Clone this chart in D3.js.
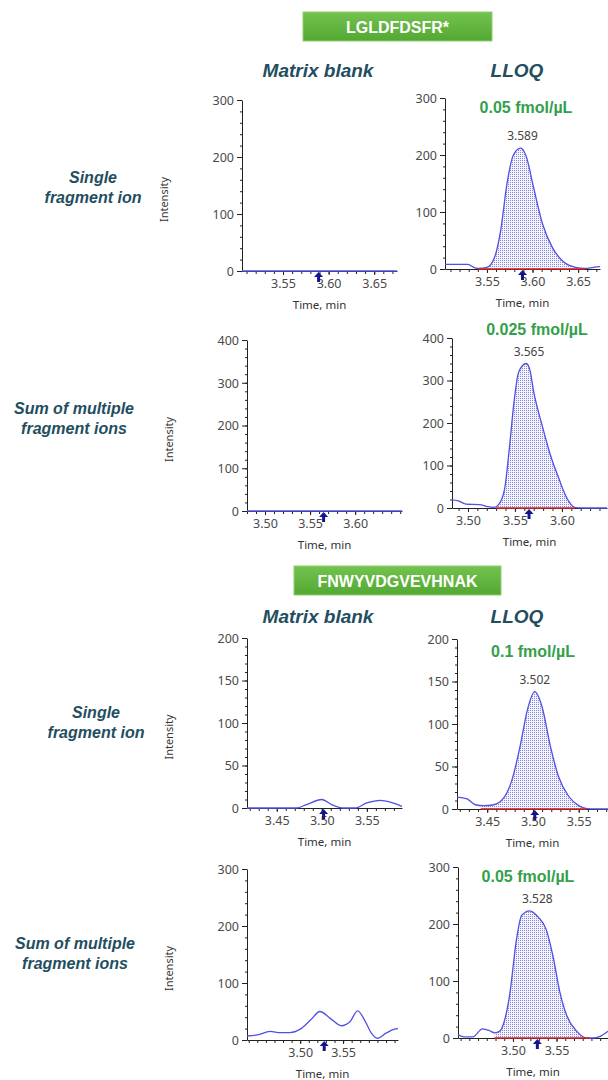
<!DOCTYPE html>
<html>
<head>
<meta charset="utf-8">
<script src="https://cdn.jsdelivr.net/npm/d3@7"></script>
<style>
  body {margin: 0; background: #fff;}
  svg {display: block;}
  .tick text {font-family: 'Noto Sans', sans-serif; font-size: 12.5px; fill: #4a4a4a;}
  .axis path, .axis line {stroke: #222;}
</style>
</head>
<body>
<script>
// peptides, column and row titles
const peptides = ['LGLDFDSFR*', 'FNWYVDGVEVHNAK']
const columnTitles = ['Matrix blank', 'LLOQ']
const rowLabels = [['Single', 'fragment ion'], ['Sum of multiple', 'fragment ions']]
const concentrations = ['0.05 fmol/µL', '0.025 fmol/µL', '0.1 fmol/µL', '0.05 fmol/µL']
const apexTimes = [3.589, 3.565, 3.502, 3.528]
const yMaxes = [300, 400, 200, 300]
const yTickSteps = [100, 100, 50, 100]
const xTickLabels = [[3.55, 3.60, 3.65], [3.50, 3.55, 3.60], [3.45, 3.50, 3.55], [3.50, 3.55]]
const xDomainsBlank = [[3.505, 3.675], [3.48, 3.652], [3.417, 3.589], [3.438, 3.614]]
const xDomainsLloq = [[3.504, 3.674], [3.483, 3.648], [3.417, 3.582], [3.437, 3.609]]
const integration = [[3.54, 3.658], [3.530, 3.614], [3.443, 3.559], [3.479, 3.588]]

// chromatograms: blank traces
const blank1Time = [3.505, 3.55, 3.60, 3.675]
const blank1Int = [0, 0, 0, 0]
const blank2Time = [3.48, 3.55, 3.60, 3.652]
const blank2Int = [0, 0, 0, 0]
const blank3Time = [3.417, 3.45, 3.472, 3.483, 3.50, 3.511, 3.524, 3.537, 3.55, 3.565, 3.576, 3.589]
const blank3Int = [0, 0, 0, 4, 10, 4, 0, 0, 6, 9, 7, 2]
const blank4Time = [3.438, 3.45, 3.465, 3.477, 3.488, 3.50, 3.512, 3.523, 3.535, 3.548, 3.558, 3.567, 3.575, 3.583, 3.59, 3.60, 3.61, 3.614]
const blank4Int = [7, 9, 15, 13, 13, 19, 35, 50, 38, 25, 32, 51, 35, 12, 3, 12, 19, 20]

// chromatograms: LLOQ traces
const lloq1Time = [3.504, 3.529, 3.537, 3.541, 3.55, 3.558, 3.565, 3.572, 3.579, 3.587, 3.593, 3.601, 3.611, 3.622, 3.633, 3.647, 3.658, 3.667, 3.674]
const lloq1Int = [8, 8, 2, 1, 3, 19, 67, 150, 200, 212, 198, 144, 79, 37, 14, 3, 1, 3, 4]
const lloq2Time = [3.483, 3.4895, 3.498, 3.512, 3.521, 3.528, 3.533, 3.539, 3.544, 3.549, 3.554, 3.562, 3.566, 3.570, 3.579, 3.588, 3.597, 3.604, 3.611, 3.614, 3.625, 3.648]
const lloq2Int = [19, 17, 9, 8, 3, 1.5, 9, 45, 139, 249, 320, 340, 324, 273, 194, 123, 68, 29, 5.5, 1, 0, 0]
const lloq3Time = [3.417, 3.428, 3.437, 3.446, 3.457, 3.468, 3.477, 3.486, 3.494, 3.502, 3.510, 3.519, 3.528, 3.539, 3.55, 3.559, 3.582]
const lloq3Int = [14, 12, 5, 4, 5, 13, 34, 74, 117, 138, 120, 74, 38, 15, 4, 0.5, 0]
const lloq4Time = [3.437, 3.444, 3.454, 3.465, 3.473, 3.479, 3.485, 3.49, 3.496, 3.504, 3.51, 3.519, 3.529, 3.538, 3.546, 3.554, 3.562, 3.573, 3.585, 3.592, 3.60, 3.609]
const lloq4Int = [6, 2, 2, 16, 13, 9, 12, 29, 73, 172, 215, 223, 212, 191, 143, 79, 38, 12, 0, 0, 3, 12]

const blankTimes = [blank1Time, blank2Time, blank3Time, blank4Time]
const blankInts = [blank1Int, blank2Int, blank3Int, blank4Int]
const lloqTimes = [lloq1Time, lloq2Time, lloq3Time, lloq4Time]
const lloqInts = [lloq1Int, lloq2Int, lloq3Int, lloq4Int]

const svg = d3.select('body').append('svg').attr('width', 608).attr('height', 1080)

const defs = svg.append('defs')
const pat = defs.append('pattern').attr('id', 'dots')
  .attr('width', 2).attr('height', 2).attr('patternUnits', 'userSpaceOnUse')
pat.append('rect').attr('width', 2).attr('height', 2).attr('fill', '#f4f4fd')
pat.append('rect').attr('width', 1).attr('height', 1).attr('fill', '#8686e2')

const teal = '#234e5f'
const green = '#34a04a'

// panel frames (pixel boxes) for rows
const blankBoxes = [
  {x0: 242, x1: 397, top: 100, bot: 271},
  {x0: 247, x1: 402, top: 340, bot: 511},
  {x0: 247, x1: 402, top: 638, bot: 808},
  {x0: 247, x1: 398, top: 869, bot: 1040}
]
const lloqBoxes = [
  {x0: 445, x1: 600, top: 98, bot: 269},
  {x0: 452, x1: 607, top: 338, bot: 508},
  {x0: 457, x1: 608, top: 639, bot: 809},
  {x0: 458, x1: 608, top: 867, bot: 1038}
]

// headers
const headerBoxes = [{x: 303, y: 12, w: 189, h: 29, ty: 70}, {x: 294, y: 566, w: 207, h: 29, ty: 616}]
const grad = defs.append('linearGradient').attr('id', 'hdr').attr('x1', 0).attr('x2', 0).attr('y1', 0).attr('y2', 1)
grad.append('stop').attr('offset', '0%').attr('stop-color', '#74c24f')
grad.append('stop').attr('offset', '100%').attr('stop-color', '#52a832')

peptides.forEach((p, i) => {
  const h = headerBoxes[i]
  svg.append('rect').attr('x', h.x).attr('y', h.y).attr('width', h.w).attr('height', h.h)
    .attr('fill', 'url(#hdr)').attr('stroke', '#8fd06f').attr('stroke-width', 1)
  svg.append('text').attr('x', h.x + h.w / 2).attr('y', h.y + h.h / 2 + 6)
    .attr('text-anchor', 'middle').attr('fill', '#fff')
    .style('font', 'bold 16px "Liberation Sans", Arial, sans-serif').text(p)
  const colX = [318, 517]
  columnTitles.forEach((t, j) => {
    svg.append('text').attr('x', colX[j]).attr('y', h.ty + 7)
      .attr('text-anchor', 'middle').attr('fill', teal)
      .style('font', 'italic bold 19px "Liberation Sans", Arial, sans-serif').text(t)
  })
})

// row labels
const rowLabelPos = [{x: 93, y: 177}, {x: 74, y: 408}, {x: 96, y: 712}, {x: 75, y: 943}]
rowLabelPos.forEach((pos, i) => {
  const lines = rowLabels[i % 2]
  lines.forEach((l, k) => {
    svg.append('text').attr('x', pos.x).attr('y', pos.y + k * 20 + 5.5)
      .attr('text-anchor', 'middle').attr('fill', teal)
      .style('font', 'italic bold 16px "Liberation Sans", Arial, sans-serif').text(l)
  })
})

function drawPanel(box, xDom, xLabels, yMax, step, times, ints, opts) {
  const x = d3.scaleLinear().domain(xDom).range([box.x0, box.x1])
  const y = d3.scaleLinear().domain([0, yMax]).range([box.bot, box.top])
  const g = svg.append('g')

  // minor ticks
  const xMinor = d3.range(Math.ceil(xDom[0] * 100), Math.floor(xDom[1] * 100) + 1).map(v => v / 100)
  g.append('g').attr('class', 'axis').attr('transform', `translate(0,${box.bot})`)
    .call(d3.axisBottom(x).tickValues(xMinor).tickSize(3).tickFormat(''))
    .call(s => s.select('.domain').remove())
  const yMinor = d3.range(0, yMax + 1, step / 5)
  g.append('g').attr('class', 'axis').attr('transform', `translate(${box.x0},0)`)
    .call(d3.axisLeft(y).tickValues(yMinor).tickSize(2).tickFormat(''))
    .call(s => s.select('.domain').remove())

  // major axes
  g.append('g').attr('class', 'axis').attr('transform', `translate(0,${box.bot})`)
    .call(d3.axisBottom(x).tickValues(xLabels).tickSize(4).tickSizeOuter(0).tickFormat(d3.format('.2f')))
    .call(s => s.selectAll('.tick text').attr('y', 7).attr('dy', '0.8em'))
  g.append('g').attr('class', 'axis').attr('transform', `translate(${box.x0},0)`)
    .call(d3.axisLeft(y).tickValues(d3.range(0, yMax + 1, step)).tickSize(5).tickSizeOuter(0))
    .call(s => s.selectAll('.tick text').attr('dy', '0.35em'))

  svg.append('text').attr('x', (box.x0 + box.x1) / 2).attr('y', box.bot + 38)
    .attr('text-anchor', 'middle').attr('fill', '#333')
    .style('font', '11.5px "Noto Sans", sans-serif').text('Time, min')
  if (opts.yLabel) {
    svg.append('text').attr('transform', `translate(${box.x0 - 74},${(box.top + box.bot) / 2 + 14}) rotate(-90)`)
      .attr('text-anchor', 'middle').attr('fill', '#333')
      .style('font', '11px "Noto Sans", sans-serif').text('Intensity')
  }

  const pts = times.map((t, i) => [t, ints[i]])
  if (opts.integ) {
    const id = 'clip' + Math.round(box.x0 + box.top)
    defs.append('clipPath').attr('id', id).append('rect')
      .attr('x', x(opts.integ[0])).attr('y', box.top - 20)
      .attr('width', x(opts.integ[1]) - x(opts.integ[0])).attr('height', box.bot - box.top + 20)
    g.append('path').datum(pts).attr('clip-path', `url(#${id})`)
      .attr('fill', 'url(#dots)')
      .attr('d', d3.area().x(d => x(d[0])).y0(y(0)).y1(d => y(d[1])).curve(d3.curveMonotoneX))
  }
  g.append('path').datum(pts).attr('fill', 'none').attr('stroke', '#5050e2').attr('stroke-width', 1.3)
    .attr('d', d3.line().x(d => x(d[0])).y(d => y(d[1])).curve(d3.curveMonotoneX))
  if (opts.integ) {
    g.append('line').attr('x1', x(opts.integ[0])).attr('x2', x(opts.integ[1]))
      .attr('y1', y(0)).attr('y2', y(0)).attr('stroke', '#d8261c').attr('stroke-width', 1.6)
  }

  // retention-time arrow
  const ax = x(opts.apex)
  g.append('path')
    .attr('d', `M${ax},${box.bot + 1} l-4.5,5 h3 v5 h3 v-5 h3 z`)
    .attr('fill', '#14148c')

  if (opts.conc) {
    svg.append('text').attr('x', opts.concX).attr('y', box.top + opts.concDy)
      .attr('text-anchor', 'middle').attr('fill', green)
      .style('font', 'bold 16px "Liberation Sans", Arial, sans-serif').text(opts.conc)
    const peakVal = d3.max(ints)
    svg.append('text').attr('x', x(opts.apex)).attr('y', y(peakVal) - 8)
      .attr('text-anchor', 'middle').attr('fill', '#444')
      .style('font', '12px "Noto Sans", sans-serif').text(opts.apex.toFixed(3))
  }
}

const concX = [526, 537, 533, 528]
const concDy = [15, -3, 18, 15]
for (let i = 0; i < 4; i++) {
  drawPanel(blankBoxes[i], xDomainsBlank[i], xTickLabels[i], yMaxes[i], yTickSteps[i], blankTimes[i], blankInts[i],
    {yLabel: true, apex: apexTimes[i]})
  drawPanel(lloqBoxes[i], xDomainsLloq[i], xTickLabels[i], yMaxes[i], yTickSteps[i], lloqTimes[i], lloqInts[i],
    {apex: apexTimes[i], integ: integration[i], conc: concentrations[i], concX: concX[i], concDy: concDy[i]})
}
</script>
</body>
</html>
